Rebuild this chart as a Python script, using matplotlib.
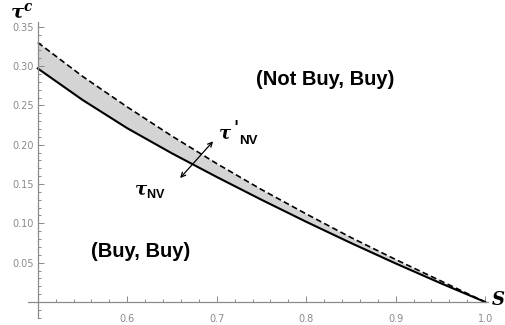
import numpy as np
import matplotlib.pyplot as plt
from matplotlib.ticker import MultipleLocator, FixedLocator

plt.rcParams['mathtext.fontset'] = 'custom'
plt.rcParams['mathtext.it'] = 'DejaVu Serif:italic:bold'
plt.rcParams['mathtext.rm'] = 'DejaVu Serif:bold'
plt.rcParams['mathtext.bf'] = 'Liberation Sans:bold'

s = [0.50, 0.55, 0.60, 0.65, 0.70, 0.75, 0.80, 0.85, 0.90, 0.95, 1.00]
tau_nv = [0.297, 0.257, 0.221, 0.189, 0.159, 0.130, 0.102, 0.075, 0.049, 0.024, 0.0]
tau_nv_prime = [0.330, 0.287, 0.248, 0.211, 0.176, 0.143, 0.112, 0.082, 0.054, 0.027, 0.0]

xticks = [0.6, 0.7, 0.8, 0.9, 1.0]
yticks = [0.05, 0.10, 0.15, 0.20, 0.25, 0.30, 0.35]

fig = plt.figure(figsize=(5.05, 3.25), dpi=100)
ax = fig.add_axes([0.0554, 0.0215, 0.9106, 0.9105])

ax.fill_between(s, tau_nv, tau_nv_prime, color='#d4d4d4', lw=0)
ax.plot(s, tau_nv, color='black', lw=1.5)
ax.plot(s, tau_nv_prime, color='black', lw=1.2, dashes=(3.5, 2))

ax.set_xlim(0.489, 1.003)
ax.set_ylim(-0.0204, 0.356)

ax.spines['top'].set_visible(False)
ax.spines['right'].set_visible(False)
ax.spines['left'].set_position(('data', 0.5))
ax.spines['bottom'].set_position(('data', 0.0))
for sp in ('left', 'bottom'):
    ax.spines[sp].set_color('#8a8a8a')
    ax.spines[sp].set_linewidth(0.9)

ax.xaxis.set_major_locator(FixedLocator(xticks))
ax.xaxis.set_minor_locator(MultipleLocator(0.02))
ax.yaxis.set_major_locator(FixedLocator(yticks))
ax.yaxis.set_minor_locator(MultipleLocator(0.01))
ax.set_xticklabels(['%.1f' % v for v in xticks])
ax.set_yticklabels(['%.2f' % v for v in yticks])
ax.tick_params(axis='both', which='both', direction='in', color='#8a8a8a',
               labelcolor='#8a8a8a', labelsize=7, width=0.7)
ax.tick_params(axis='both', which='major', length=4)
ax.tick_params(axis='both', which='minor', length=2)
ax.tick_params(axis='x', pad=9)
ax.tick_params(axis='y', pad=3)

ax.text(0.469, 0.357, r'$\tau^{c}$', fontsize=14, ha='left', va='bottom', clip_on=False)
ax.text(1.007, 0.002, r'$S$', fontsize=13, ha='left', va='center', clip_on=False)

ax.text(0.821, 0.283, '(Not Buy, Buy)', fontsize=14.5, fontweight='bold',
        family='Liberation Sans', ha='center', va='center')
ax.text(0.615, 0.064, '(Buy, Buy)', fontsize=14.5, fontweight='bold',
        family='Liberation Sans', ha='center', va='center')

ax.annotate('', xy=(0.657, 0.155), xytext=(0.698, 0.207),
            arrowprops=dict(arrowstyle='<->', color='black', lw=0.9,
                            mutation_scale=8))
# upper label: tau prime with NV subscript
ax.text(0.701, 0.214, r"$\tau$", fontsize=13, ha='left', va='center')
ax.text(0.7185, 0.222, "'", fontsize=12, fontweight='bold', family='DejaVu Serif',
        ha='left', va='center')
ax.text(0.725, 0.205, "NV", fontsize=9.5, fontweight='bold', family='Liberation Sans',
        ha='left', va='center')
ax.text(0.625, 0.141, r"$\tau_{\mathbf{NV}}$", fontsize=13, ha='center', va='center')

fig.savefig('out.png', dpi=100)
